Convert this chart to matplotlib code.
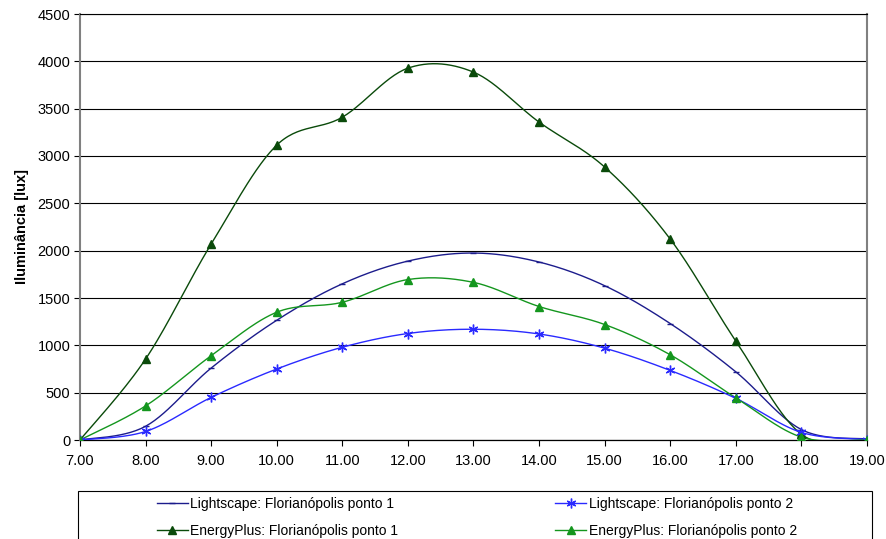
import numpy as np
import matplotlib
matplotlib.use("Agg")
import matplotlib.pyplot as plt
from matplotlib.patches import Rectangle

plt.rcParams['font.family'] = ['Liberation Sans', 'DejaVu Sans']

hours = [7, 8, 9, 10, 11, 12, 13, 14, 15, 16, 17, 18, 19]
hour_labels = ["7.00", "8.00", "9.00", "10.00", "11.00", "12.00", "13.00",
               "14.00", "15.00", "16.00", "17.00", "18.00", "19.00"]
ls_p1 = [0, 145, 760, 1265, 1650, 1890, 1975, 1880, 1630, 1230, 720, 110, 10]
ls_p2 = [0, 90, 450, 750, 980, 1125, 1170, 1120, 970, 735, 440, 80, 5]
ep_p1 = [0, 855, 2070, 3115, 3410, 3928, 3886, 3358, 2883, 2122, 1045, 60, 0]
ep_p2 = [0, 360, 890, 1350, 1455, 1695, 1665, 1410, 1220, 900, 445, 30, 0]
yticks = [0, 500, 1000, 1500, 2000, 2500, 3000, 3500, 4000, 4500]


def smooth(x, y, n=30):
    x = np.asarray(x, float); y = np.asarray(y, float)
    P = np.column_stack([x, y])
    Pe = np.vstack([P[0], P, P[-1]])
    out = []
    t = np.linspace(0, 1, n)[:, None]
    for i in range(len(P) - 1):
        p0, p1, p2, p3 = Pe[i], Pe[i + 1], Pe[i + 2], Pe[i + 3]
        c1 = p1 + (p2 - p0) / 6.0
        c2 = p2 - (p3 - p1) / 6.0
        seg = ((1 - t) ** 3) * p1 + 3 * ((1 - t) ** 2) * t * c1 + 3 * (1 - t) * t ** 2 * c2 + t ** 3 * p2
        out.append(seg if i == 0 else seg[1:])
    s = np.vstack(out)
    return s[:, 0], s[:, 1]


W, H = 887, 539
fig = plt.figure(figsize=(W / 100, H / 100), dpi=100)
ax = fig.add_axes([80 / W, 1 - 440 / H, (867 - 80) / W, (440 - 14) / H])

series = [
    (ls_p1, "Lightscape: Florianópolis ponto 1", "#1c1c8c", "_", 5, 1.0),
    (ep_p1, "EnergyPlus: Florianópolis ponto 1", "#0a4a0a", "^", 6, 1.0),
    (ls_p2, "Lightscape: Florianópolis ponto 2", "#2a2aff", (6, 2, 0), 7, 1.0),
    (ep_p2, "EnergyPlus: Florianópolis ponto 2", "#14961e", "^", 6, 1.0),
]
handles = []
for vals, label, col, mk, ms, lw in series:
    sx, sy = smooth(hours, vals)
    ax.plot(sx, sy, color=col, lw=lw, zorder=3)
    ax.plot(hours, vals, linestyle="none", marker=mk, color=col, ms=ms,
            mec=col, mew=1.0, zorder=4)
    h, = ax.plot([], [], color=col, lw=lw, marker=mk, ms=ms, mec=col, mew=1.0, label=label)
    handles.append(h)

ax.set_xlim(7, 19)
ax.set_ylim(0, 4500)
ax.set_xticks(hours)
ax.set_xticklabels(hour_labels)
ax.set_yticks(yticks)
ax.yaxis.grid(True, color="black", lw=0.8)
ax.set_axisbelow(True)
ax.tick_params(axis="both", labelsize=10.5, direction="out", length=4, width=0.8, colors="black")
ax.tick_params(axis="x", pad=6)
ax.tick_params(axis="y", pad=3)
for side in ["left", "right"]:
    ax.spines[side].set_color("#808080")
    ax.spines[side].set_linewidth(1.5)
ax.spines["top"].set_color("black")
ax.spines["top"].set_linewidth(0.8)
ax.spines["bottom"].set_color("black")
ax.spines["bottom"].set_linewidth(0.9)
ax.set_ylabel("Iluminância [lux]", fontsize=10.5, fontweight="bold", labelpad=6)

fig.patches.append(Rectangle((78 / W, 1 - 560 / H), (872 - 78) / W, (560 - 491) / H,
                             transform=fig.transFigure, fill=False, edgecolor="black", lw=0.8))
fig.legend(handles=handles, loc="upper left", bbox_to_anchor=(157 / W, 1 - 497 / H),
           ncol=2, frameon=False, fontsize=10, borderpad=0, handlelength=2.2,
           handletextpad=0.2, columnspacing=11.3, labelspacing=0.95, borderaxespad=0)

fig.savefig("out.png", dpi=100)
